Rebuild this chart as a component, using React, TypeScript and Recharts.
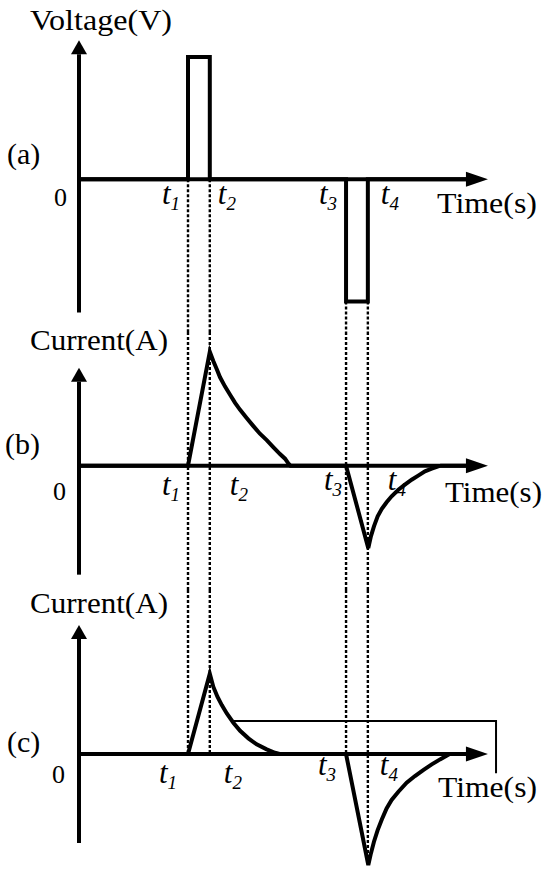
import React from 'react'
import { LineChart, Line, XAxis, YAxis, ReferenceLine, ReferenceDot } from 'recharts'

// switching instants t1..t4 and the end of the time axis (arrow tip)
const tickTimes = [5, 6, 12.25, 13.25]
const tickNames = ['1', '2', '3', '4']
const axisEnd = 18.76

// (a) applied voltage
const voltage = [
  { t: 0, v: 0 }, { t: 5, v: 0 }, { t: 5, v: 1 }, { t: 6, v: 1 }, { t: 6, v: 0 },
  { t: 12.25, v: 0 }, { t: 12.25, v: -1 }, { t: 13.25, v: -1 }, { t: 13.25, v: 0 }, { t: 18, v: 0 },
]

// (b) current response
const currentB = [
  { t: 0, v: 0 }, { t: 5, v: 0 }, { t: 6, v: 0.98 }, { t: 6.16, v: 0.9 }, { t: 6.32, v: 0.83 },
  { t: 6.47, v: 0.76 }, { t: 6.7, v: 0.68 }, { t: 6.93, v: 0.61 }, { t: 7.16, v: 0.54 },
  { t: 7.39, v: 0.48 }, { t: 7.69, v: 0.41 }, { t: 8.0, v: 0.34 }, { t: 8.3, v: 0.275 },
  { t: 8.61, v: 0.22 }, { t: 8.91, v: 0.16 }, { t: 9.22, v: 0.1 }, { t: 9.45, v: 0.06 },
  { t: 9.6, v: 0.02 }, { t: 9.7, v: 0 }, { t: 12.25, v: 0 },
  { t: 13.27, v: -0.71 }, { t: 13.39, v: -0.608 }, { t: 13.53, v: -0.522 }, { t: 13.7, v: -0.436 },
  { t: 13.89, v: -0.372 }, { t: 14.11, v: -0.315 }, { t: 14.34, v: -0.264 }, { t: 14.65, v: -0.207 },
  { t: 14.95, v: -0.164 }, { t: 15.26, v: -0.121 }, { t: 15.56, v: -0.086 }, { t: 15.87, v: -0.049 },
  { t: 16.18, v: -0.026 }, { t: 16.48, v: -0.006 }, { t: 16.6, v: 0 }, { t: 18, v: 0 },
]

// (c) current response
const currentC = [
  { t: 0, v: 0 }, { t: 5, v: 0 }, { t: 6, v: 0.69 }, { t: 6.16, v: 0.579 }, { t: 6.35, v: 0.493 },
  { t: 6.55, v: 0.421 }, { t: 6.78, v: 0.349 }, { t: 7.08, v: 0.269 }, { t: 7.39, v: 0.2 },
  { t: 7.77, v: 0.135 }, { t: 8.15, v: 0.083 }, { t: 8.61, v: 0.04 }, { t: 8.99, v: 0.011 },
  { t: 9.2, v: 0 }, { t: 12.25, v: 0 },
  { t: 13.27, v: -0.954 }, { t: 13.39, v: -0.854 }, { t: 13.53, v: -0.754 }, { t: 13.7, v: -0.654 },
  { t: 13.89, v: -0.562 }, { t: 14.11, v: -0.467 }, { t: 14.34, v: -0.395 }, { t: 14.65, v: -0.324 },
  { t: 15.03, v: -0.247 }, { t: 15.41, v: -0.189 }, { t: 15.79, v: -0.138 }, { t: 16.18, v: -0.089 },
  { t: 16.56, v: -0.046 }, { t: 16.86, v: -0.015 }, { t: 17.0, v: 0 }, { t: 18, v: 0 },
]

// (c) thin level line
const levelC = [{ t: 6.97, v: 0.284 }, { t: 19.13, v: 0.284 }, { t: 19.13, v: -0.165 }]

const FONT = "'Liberation Serif', 'Times New Roman', serif"
const W = 550
const MARGIN = { top: 0, right: 35, bottom: 0, left: 79 }

const Arrow = (p: any) => {
  const { x1, y1, x2, y2, len, half } = p
  const dx = x2 - x1
  const dy = y2 - y1
  const d = Math.hypot(dx, dy) || 1
  const ux = dx / d
  const uy = dy / d
  const bx = x2 - ux * len
  const by = y2 - uy * len
  const px = -uy * half
  const py = ux * half
  return (
    <g>
      <line x1={x1} y1={y1} x2={bx} y2={by} stroke="#000" strokeWidth={4} />
      <polygon points={`${x2},${y2} ${bx + px},${by + py} ${bx - px},${by - py}`} fill="#000" />
    </g>
  )
}

const tickLabel = (name: string, dx: number, dy: number, anchor: string) => (p: any) => {
  const vb = p.viewBox || {}
  return (
    <text x={vb.x + dx} y={vb.y + dy} textAnchor={anchor} fontFamily={FONT} fontStyle="italic" fontSize={31} fill="#000">
      t<tspan fontSize={19} dy={6}>{name}</tspan>
    </text>
  )
}

const dashProps = { stroke: '#000', strokeWidth: 2.4, strokeDasharray: '3 2', ifOverflow: 'visible' as const }

interface PanelProps {
  height: number
  top: number
  marginTop: number
  domain: [number, number]
  yAxisSpan: [number, number]
  data: { t: number; v: number }[]
  dashes: any[]
  labelOffsets: [number, number, string][]
  extra?: { t: number; v: number }[]
}

function Panel({ height, top, marginTop, domain, yAxisSpan, data, dashes, labelOffsets, extra }: PanelProps) {
  return (
    <div style={{ position: 'absolute', left: 0, top }}>
      <LineChart width={W} height={height} margin={{ ...MARGIN, top: marginTop }}>
        <XAxis dataKey="t" type="number" domain={[0, 20]} hide allowDataOverflow />
        <YAxis type="number" domain={domain} hide allowDataOverflow />
        {dashes}
        <ReferenceLine
          segment={[{ x: 0, y: yAxisSpan[0] }, { x: 0, y: yAxisSpan[1] }]}
          ifOverflow="visible"
          shape={(p: any) => <Arrow {...p} len={14} half={8} />}
        />
        <ReferenceLine
          segment={[{ x: 0, y: 0 }, { x: axisEnd, y: 0 }]}
          ifOverflow="visible"
          shape={(p: any) => <Arrow {...p} len={22} half={7.5} />}
        />
        {extra && (
          <Line data={extra} dataKey="v" type="linear" stroke="#000" strokeWidth={2} dot={false}
            isAnimationActive={false} strokeLinejoin="miter" />
        )}
        <Line data={data} dataKey="v" type="linear" stroke="#000" strokeWidth={4} dot={false}
          isAnimationActive={false} strokeLinejoin="miter" strokeLinecap="butt" />
        {tickTimes.map((t, i) => (
          <ReferenceDot key={'lab' + i} x={t} y={0} r={0} fill="none" stroke="none" ifOverflow="visible"
            label={tickLabel(tickNames[i], labelOffsets[i][0], labelOffsets[i][1], labelOffsets[i][2])} />
        ))}
      </LineChart>
    </div>
  )
}

const Txt = ({ x, y, len, size = 30, children }: any) => (
  <text x={x} y={y} fontFamily={FONT} fontSize={size} fill="#000" textLength={len} lengthAdjust={len ? 'spacingAndGlyphs' : undefined}>
    {children}
  </text>
)

export default function App() {
  const domA: [number, number] = [-1.25, 1.45]
  const domB: [number, number] = [-1.07, 1.15]
  const domC: [number, number] = [-1.1, 1.41]

  const dashFromA = [0, 0, -1, -1]
  const dashToC = [0, 0, 0, -0.95]

  const dashesA = tickTimes.map((t, i) => (
    <ReferenceLine key={'da' + i} segment={[{ x: t, y: dashFromA[i] }, { x: t, y: domA[0] }]} {...dashProps} />
  ))
  const dashesB = tickTimes.map((t, i) => (
    <ReferenceLine key={'db' + i} segment={[{ x: t, y: domB[1] }, { x: t, y: domB[0] }]} {...dashProps} />
  ))
  const dashesC = tickTimes.map((t, i) => (
    <ReferenceLine key={'dc' + i} segment={[{ x: t, y: domC[1] }, { x: t, y: dashToC[i] }]} {...dashProps} />
  ))

  return (
    <div style={{ position: 'absolute', left: 0, top: 0, width: W, height: 882, background: '#fff', overflow: 'hidden' }}>
      <Panel height={332} top={0} marginTop={2} domain={domA} yAxisSpan={[-1.09, 1.137]} data={voltage}
        dashes={dashesA}
        labelOffsets={[[-8, 25, 'end'], [8, 25, 'start'], [-9, 25, 'end'], [13, 25, 'start']]} />
      <Panel height={258} top={332} marginTop={0} domain={domB} yAxisSpan={[-0.938, 0.843]} data={currentB}
        dashes={dashesB}
        labelOffsets={[[-8, 29, 'end'], [20, 29, 'start'], [-4, 24, 'end'], [20, 24, 'start']]} />
      <Panel height={292} top={590} marginTop={0} domain={domC} yAxisSpan={[-0.765, 1.109]} data={currentC}
        dashes={dashesC} extra={levelC}
        labelOffsets={[[-11, 29, 'end'], [14, 29, 'start'], [-10, 21, 'end'], [12, 21, 'start']]} />
      <svg width={W} height={882} style={{ position: 'absolute', left: 0, top: 0, pointerEvents: 'none' }}>
        <Txt x={30} y={30} len={142}>Voltage(V)</Txt>
        <Txt x={7} y={164}>(a)</Txt>
        <Txt x={54} y={206} size={26}>0</Txt>
        <Txt x={437} y={213} len={100}>Time(s)</Txt>

        <Txt x={30} y={350} len={138}>Current(A)</Txt>
        <Txt x={5} y={454}>(b)</Txt>
        <Txt x={53} y={500} size={26}>0</Txt>
        <Txt x={445} y={502} len={97}>Time(s)</Txt>

        <Txt x={30} y={613} len={138}>Current(A)</Txt>
        <Txt x={7} y={752}>(c)</Txt>
        <Txt x={52} y={783} size={26}>0</Txt>
        <Txt x={438} y={797} len={99}>Time(s)</Txt>
      </svg>
    </div>
  )
}
